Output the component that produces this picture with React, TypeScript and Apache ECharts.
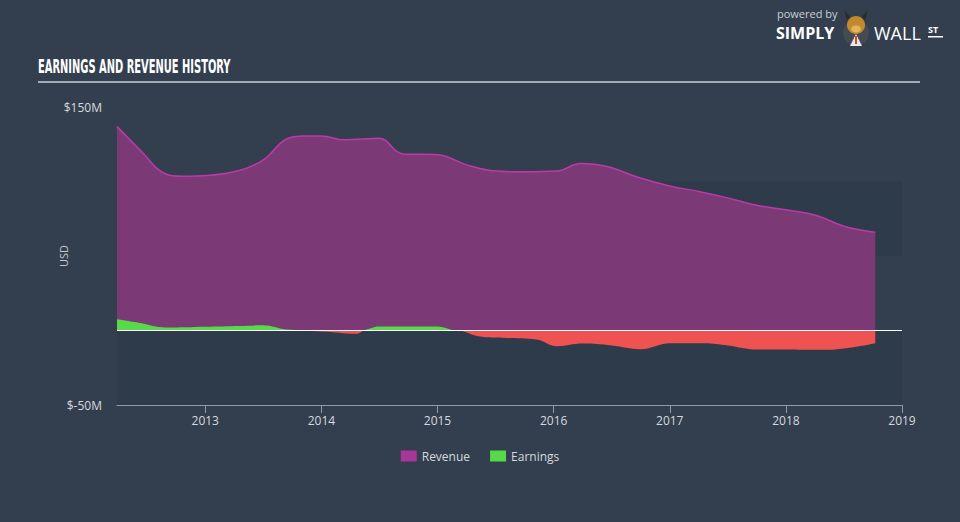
import React, { useEffect, useRef } from "react";
import * as echarts from "echarts";

const revYears = [2012.24, 2012.44, 2012.66, 2012.8, 2013.02, 2013.3, 2013.5, 2013.7, 2013.85, 2014.0, 2014.2, 2014.5, 2014.7, 2015.0, 2015.26, 2015.5, 2015.73, 2016.03, 2016.23, 2016.46, 2016.74, 2017.0, 2017.27, 2017.5, 2017.75, 2018.0, 2018.27, 2018.5, 2018.77];
const revenue = [137, 121, 105, 103.5, 104, 107.5, 114.5, 128.5, 130.5, 130.5, 128, 129, 118.5, 118, 111, 107, 106.5, 107, 112, 110, 102.5, 97, 93, 89, 84, 81, 77, 70, 66];

const earnYears = [2012.24, 2012.44, 2012.66, 2013.0, 2013.3, 2013.5, 2013.7, 2014.0, 2014.3, 2014.38, 2014.5, 2015.0, 2015.17, 2015.35, 2015.6, 2015.85, 2016.03, 2016.25, 2016.5, 2016.75, 2017.0, 2017.3, 2017.5, 2017.75, 2018.0, 2018.3, 2018.55, 2018.77];
const earnings = [7.5, 5, 2, 2.5, 3, 3.5, 0.7, -0.7, -2.2, 0.5, 2.7, 2.7, 0, -3.8, -5, -6, -10.5, -8.8, -10, -12.5, -8.5, -8.5, -10, -12.7, -12.7, -13, -11.5, -8.5];

const xTicks = [2013, 2014, 2015, 2016, 2017, 2018, 2019];
const yLabelValues = [-50, 150];

const FONT = "'Open Sans', 'DejaVu Sans', sans-serif";

export default function App() {
  const ref = useRef<HTMLDivElement>(null);
  useEffect(() => {
    if (!ref.current) return;
    const chart = echarts.init(ref.current, null, { renderer: "svg" });
    const earnPos = earnYears.map((x, i) => [x, Math.max(earnings[i], 0)]);
    const earnNeg = earnYears.map((x, i) => [x, Math.min(earnings[i], 0)]);
    chart.setOption({
      animation: false,
      backgroundColor: "#333f4f",
      textStyle: { fontFamily: FONT },
      grid: { left: 117, right: 58, top: 107, bottom: 117 },
      legend: {
        bottom: 55,
        left: "center",
        icon: "rect",
        itemWidth: 16,
        itemHeight: 11,
        itemGap: 20,
        textStyle: { color: "#d5d9de", fontSize: 12, fontFamily: FONT },
        data: [
          { name: "Revenue", itemStyle: { color: "#a8379a" } },
          { name: "Earnings", itemStyle: { color: "#58d94a" } },
        ],
      },
      xAxis: {
        type: "value",
        min: revYears[0],
        max: 2019,
        axisLine: { show: true, onZero: false, lineStyle: { color: "#8f9aa7", width: 1 } },
        axisTick: { show: true, length: 8, lineStyle: { color: "#8f9aa7" }, customValues: xTicks },
        axisLabel: { color: "#d5d9de", fontSize: 12, margin: 9, customValues: xTicks, formatter: (v: number) => String(Math.round(v)) },
        splitLine: { show: false },
      },
      yAxis: {
        type: "value",
        min: -50,
        max: 150,
        interval: 50,
        name: "USD",
        nameLocation: "middle",
        nameGap: 48,
        nameMoveOverlap: false,
        nameRotate: 90,
        nameTextStyle: { color: "#c3c9cf", fontSize: 11 },
        axisLine: { show: false },
        axisTick: { show: false },
        axisLabel: {
          color: "#d5d9de",
          fontSize: 12,
          margin: 15,
          formatter: (v: number) => (yLabelValues.indexOf(v) >= 0 ? "$" + v + "M" : ""),
        },
        splitLine: { show: false },
        splitArea: { show: true, areaStyle: { color: ["#2e3b4a", "rgba(0,0,0,0)"] } },
      },
      series: [
        {
          name: "Revenue",
          type: "line",
          smooth: 0.4,
          symbol: "none",
          z: 2,
          data: revYears.map((x, i) => [x, revenue[i]]),
          lineStyle: { color: "#bb3aa8", width: 1.5 },
          itemStyle: { color: "#a8379a" },
          areaStyle: { color: "#7b3a76", opacity: 1 },
          markLine: {
            silent: true,
            symbol: "none",
            label: { show: false },
            lineStyle: { color: "#ffffff", width: 1, type: "solid" },
            data: [{ yAxis: 0 }],
          },
        },
        {
          name: "Earnings",
          type: "line",
          smooth: 0.4,
          symbol: "none",
          z: 3,
          data: earnPos,
          lineStyle: { width: 0 },
          itemStyle: { color: "#58d94a" },
          areaStyle: { color: "#58d94a", opacity: 1 },
        },
        {
          name: "Earnings (loss)",
          type: "line",
          smooth: 0.4,
          symbol: "none",
          z: 3,
          data: earnNeg,
          lineStyle: { width: 0 },
          itemStyle: { color: "#ee5352" },
          areaStyle: { color: "#ee5352", opacity: 1 },
        },
      ],
      graphic: [
        {
          type: "text",
          x: 38,
          y: 57,
          scaleX: 0.58,
          style: {
            text: "EARNINGS AND REVENUE HISTORY",
            fill: "#ffffff",
            font: "bold 19px 'DejaVu Sans Condensed', 'DejaVu Sans', sans-serif",
            verticalAlign: "top",
          },
        },
        {
          type: "rect",
          shape: { x: 38, y: 81, width: 882, height: 2 },
          style: { fill: "#a3abb5" },
        },
        {
          type: "text",
          x: 777,
          y: 8,
          style: { text: "powered by", fill: "#c9ced4", font: "11px 'Open Sans', sans-serif", verticalAlign: "top" },
        },
        {
          type: "text",
          x: 776,
          y: 25,
          style: { text: "SIMPLY", fill: "#ffffff", font: "bold 16px 'Open Sans', sans-serif", verticalAlign: "top" },
        },
        {
          type: "text",
          x: 874,
          y: 24,
          style: { text: "WALL", fill: "#ffffff", font: "18px 'Open Sans', sans-serif", verticalAlign: "top" },
        },
        {
          type: "text",
          x: 928,
          y: 25,
          style: { text: "ST", fill: "#ffffff", font: "bold 9px 'Open Sans', sans-serif", verticalAlign: "top" },
        },
        {
          type: "rect",
          shape: { x: 928, y: 36, width: 15, height: 1.5 },
          style: { fill: "#ffffff" },
        },
        {
          type: "circle",
          shape: { cx: 856, cy: 33, r: 13 },
          style: { fill: "#454b53" },
        },
        {
          type: "polygon",
          shape: { points: [[850, 46], [856, 34], [862, 46]] },
          style: { fill: "#e8e8e8" },
        },
        {
          type: "rect",
          shape: { x: 855, y: 36, width: 2, height: 8 },
          style: { fill: "#e0452a" },
        },
        {
          type: "ellipse",
          shape: { cx: 856, cy: 25, rx: 9, ry: 9 },
          style: { fill: "#c28a2c" },
        },
        {
          type: "ellipse",
          shape: { cx: 856, cy: 29, rx: 5, ry: 3.5 },
          style: { fill: "#e3b25a" },
        },
        {
          type: "polygon",
          shape: { points: [[847, 20], [844, 10], [850, 17]] },
          style: { fill: "#2a2a2a" },
        },
        {
          type: "polygon",
          shape: { points: [[865, 20], [868, 10], [862, 17]] },
          style: { fill: "#2a2a2a" },
        },
      ],
    });
    return () => chart.dispose();
  }, []);
  return (
    <div
      ref={ref}
      style={{ position: "fixed", left: 0, top: 0, width: 960, height: 522 }}
    />
  );
}
